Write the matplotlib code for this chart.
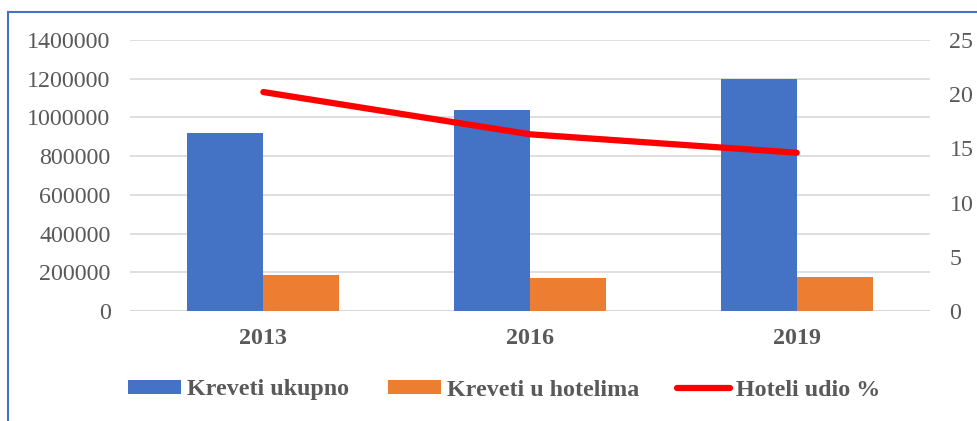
import numpy as np
import matplotlib
matplotlib.use('Agg')
import matplotlib.pyplot as plt
from matplotlib.lines import Line2D

# data
years = ['2013', '2016', '2019']
kreveti_ukupno = [920000, 1040000, 1200000]
kreveti_hoteli = [186000, 170000, 176000]
hoteli_udio = [20.2, 16.3, 14.6]

blue = '#4472C4'
orange = '#ED7D31'
gray = '#595959'
grid = '#D9D9D9'

plt.rcParams['font.family'] = ['Liberation Serif', 'DejaVu Serif']

fig = plt.figure(figsize=(9.77, 4.21), dpi=100)
ax = fig.add_axes([130 / 977, 110 / 421, 800 / 977, 271 / 421])
ax2 = ax.twinx()

x = np.arange(len(years))
w = 0.285
ax.bar(x - w / 2, kreveti_ukupno, w, color=blue, label='Kreveti ukupno', zorder=2)
ax.bar(x + w / 2, kreveti_hoteli, w, color=orange, label='Kreveti u hotelima', zorder=2)
ax2.plot(x, hoteli_udio, color='#FF0000', lw=4.5, solid_capstyle='round',
         label='Hoteli udio %')

ax.set_xlim(-0.5, 2.5)
ax.set_ylim(0, 1400000)
ax.set_yticks(np.arange(0, 1400001, 200000))
ax.set_yticklabels([str(v) for v in range(0, 1400001, 200000)])
ax2.set_ylim(0, 25)
ax2.set_yticks(range(0, 26, 5))

ax.set_xticks(x)
ax.set_xticklabels(years, fontweight='bold')
ax.grid(axis='y', color=grid, lw=1.2, zorder=0)
ax.set_axisbelow(True)

for a in (ax, ax2):
    for s in a.spines.values():
        s.set_visible(False)
    a.tick_params(length=0, labelsize=17.3, labelcolor=gray)
ax.tick_params(axis='y', pad=14)
ax.tick_params(axis='x', pad=12)
ax2.tick_params(axis='y', pad=14)
ax.axhline(0, color=grid, lw=1.5, zorder=1)

h1, l1 = ax.get_legend_handles_labels()
h2, l2 = ax2.get_legend_handles_labels()
fig.legend(h1 + h2, l1 + l2, loc='center', bbox_to_anchor=(0.5164, 31 / 421),
           ncol=3, frameon=False, prop={'size': 17.3, 'weight': 'bold'},
           labelcolor=gray, handlelength=2.2, handleheight=0.55,
           handletextpad=0.25, columnspacing=1.6)

# chart frame (partly cropped in the original)
fig.add_artist(Line2D([8 / 977, 8 / 977], [0, 1 - 12 / 421], color=blue, lw=1.5))
fig.add_artist(Line2D([8 / 977, 1], [1 - 12 / 421, 1 - 12 / 421], color=blue, lw=1.5))

fig.savefig('out.png', dpi=100, facecolor='white')
